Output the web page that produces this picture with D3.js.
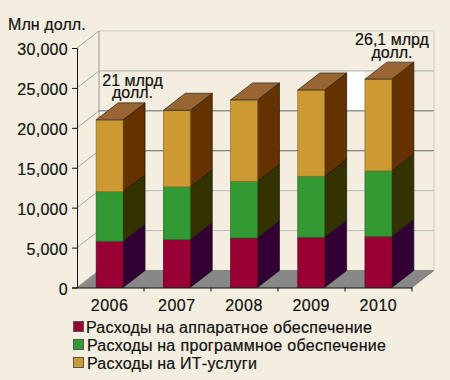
<!DOCTYPE html>
<html>
<head>
<meta charset="utf-8">
<script src="https://cdn.jsdelivr.net/npm/d3@7"></script>
<style>
html, body { margin: 0; padding: 0; background: #f3eedf; }
text { font-family: "Liberation Sans", Arial, sans-serif; fill: #111; stroke: #111; stroke-width: 0.2; }
</style>
</head>
<body>
<div id="chart"></div>
<script>
var years = ["2006", "2007", "2008", "2009", "2010"];
var hardware = [5800, 6000, 6200, 6300, 6400];
var software = [6200, 6600, 7100, 7640, 8200];
var services = [9000, 9600, 10200, 10800, 11500];
var yTicks = [0, 5000, 10000, 15000, 20000, 25000, 30000];
var seriesKeys = ["hardware", "software", "services"];
var legendHead = ["Расходы на", "Расходы на", "Расходы на"];
var legendTail = ["аппаратное обеспечение", "программное обеспечение", "ИТ-услуги"];
var notes = [
    {year: "2006", lines: ["21 млрд", "долл."]},
    {year: "2010", lines: ["26,1 млрд", "долл."]}
];

var cfg = {
    w: 450, h: 380,
    left: 77, right: 412, top: 48, bottom: 287.5,
    dx: 22, dy: 17,
    padding: 0.6,
    front: ["#990033", "#339933", "#cc9933"],
    side: ["#330033", "#333300", "#663300"],
    roof: "#996633",
    floor: "#888888",
    bg: "#f3eedf"
};

var table = years.map(function (y, i) {
    return {year: y, hardware: hardware[i], software: software[i], services: services[i]};
});
var stacked = d3.stack().keys(seriesKeys)(table);

var x = d3.scaleBand().domain(years).range([cfg.left - 1, cfg.right]).paddingInner(cfg.padding).paddingOuter(cfg.padding / 2);
var y = d3.scaleLinear().domain([0, 30000]).range([cfg.bottom, cfg.top]);

var svg = d3.select("#chart").append("svg")
    .attr("width", cfg.w)
    .attr("height", cfg.h)
    .style("display", "block");

function poly(pts) {
    return pts.map(function (p) { return p[0] + "," + p[1]; }).join(" ");
}

// floor
svg.append("polygon")
    .attr("points", poly([
        [cfg.left, cfg.bottom], [cfg.left + cfg.dx, cfg.bottom - cfg.dy],
        [cfg.right + cfg.dx, cfg.bottom - cfg.dy], [cfg.right, cfg.bottom]
    ]))
    .attr("fill", cfg.floor)
    .attr("stroke", "#555")
    .attr("stroke-width", 0.5);

// white patch on the back wall, between the last two bars
svg.append("rect")
    .attr("x", x("2009") + x.bandwidth() + cfg.dx)
    .attr("y", y(25000) - cfg.dy)
    .attr("width", x("2010") - x("2009") - x.bandwidth() - cfg.dx)
    .attr("height", y(20000) - y(25000))
    .attr("fill", "#fff");

// back wall and left wall grid
var gridColor = {0: "#bbb", 5000: "#bbb", 10000: "#bbb", 15000: "#666", 20000: "#666", 25000: "#aaa", 30000: "#ccc"};
var grid = svg.append("g").attr("class", "grid");
yTicks.forEach(function (t) {
    grid.append("line")
        .attr("x1", cfg.left).attr("y1", y(t))
        .attr("x2", cfg.left + cfg.dx).attr("y2", y(t) - cfg.dy)
        .attr("stroke", "#aaa");
    if (t > 0) {
        grid.append("line")
            .attr("x1", cfg.left + cfg.dx).attr("y1", y(t) - cfg.dy)
            .attr("x2", cfg.right + cfg.dx).attr("y2", y(t) - cfg.dy)
            .attr("stroke", gridColor[t]);
    }
});
grid.append("line")
    .attr("x1", cfg.left + cfg.dx).attr("y1", y(30000) - cfg.dy)
    .attr("x2", cfg.left + cfg.dx).attr("y2", y(0) - cfg.dy)
    .attr("stroke", "#999");
grid.append("line")
    .attr("x1", cfg.right + cfg.dx).attr("y1", y(30000) - cfg.dy)
    .attr("x2", cfg.right + cfg.dx).attr("y2", y(0) - cfg.dy)
    .attr("stroke", "#ccc");

// bars, back to front inside each stack
var bars = svg.append("g").attr("class", "bars");
stacked.forEach(function (layer, s) {
    var g = bars.append("g");
    layer.forEach(function (d) {
        var yr = d.data.year,
            x0 = x(yr),
            x1 = x0 + x.bandwidth(),
            y0 = y(d[0]),
            y1 = y(d[1]);
        g.append("polygon")
            .attr("points", poly([[x1, y0], [x1 + cfg.dx, y0 - cfg.dy], [x1 + cfg.dx, y1 - cfg.dy], [x1, y1]]))
            .attr("fill", cfg.side[s])
            .attr("stroke", "#111")
            .attr("stroke-width", 0.7);
        g.append("rect")
            .attr("x", x0).attr("y", y1)
            .attr("width", x.bandwidth()).attr("height", y0 - y1)
            .attr("fill", cfg.front[s])
            .attr("stroke", d3.color(cfg.front[s]).darker(1))
            .attr("stroke-width", 0.7);
        if (s === stacked.length - 1) {
            g.append("polygon")
                .attr("points", poly([[x0, y1], [x0 + cfg.dx, y1 - cfg.dy], [x1 + cfg.dx, y1 - cfg.dy], [x1, y1]]))
                .attr("fill", cfg.roof)
                .attr("stroke", "#222")
                .attr("stroke-width", 0.7);
        }
    });
});

// axes
var yAxis = d3.axisLeft(y).tickValues(yTicks).tickSize(5).tickPadding(4)
    .tickFormat(function (d) { return d === 0 ? "0" : d3.format(",")(d); });
var yG = svg.append("g").attr("transform", "translate(" + cfg.left + ",0)").call(yAxis);
yG.attr("font-family", null);
yG.selectAll("text").attr("font-size", 16).attr("letter-spacing", 0.3).attr("dy", "0.42em");
yG.selectAll("line, path").attr("stroke", "#111");

var xAxis = d3.axisBottom(x).tickSize(0).tickPadding(12);
var xG = svg.append("g").attr("transform", "translate(0," + cfg.bottom + ")").call(xAxis);
xG.attr("font-family", null);
xG.selectAll("text").attr("font-size", 16).attr("letter-spacing", 0.5);
xG.select(".domain").attr("stroke", "#111").attr("stroke-width", 1.2);

// x ticks sit between the categories
var tickStep = (cfg.right - cfg.left) / years.length;
years.forEach(function (yr, i) {
    var tx = cfg.left + tickStep * (i + 1);
    svg.append("line")
        .attr("x1", tx).attr("y1", cfg.bottom)
        .attr("x2", tx).attr("y2", cfg.bottom + 4)
        .attr("stroke", "#111");
});

svg.append("text")
    .attr("x", 8).attr("y", 29.5)
    .attr("font-size", 16)
    .attr("letter-spacing", 0.1)
    .text("Млн долл.");

// notes above the first and last bar
var noteX = [132.5, 392];
var noteY = [86, 45];
var noteGap = [12, 13];
notes.forEach(function (n, i) {
    n.lines.forEach(function (line, k) {
        svg.append("text")
            .attr("x", noteX[i])
            .attr("y", noteY[i] + k * noteGap[i])
            .attr("text-anchor", "middle")
            .attr("font-size", 16)
            .text(line);
    });
});

// legend
var legend = svg.append("g").attr("class", "legend");
var legendY = [332.5, 350.5, 368.5];
var legendHeadX = [86, 87, 87];
var legendTailX = [179, 180.5, 180];
legendTail.forEach(function (t, i) {
    legend.append("rect")
        .attr("x", 73.5).attr("y", legendY[i] - 11)
        .attr("width", 10).attr("height", 10)
        .attr("fill", cfg.front[i])
        .attr("stroke", "#555");
    legend.append("text")
        .attr("x", legendHeadX[i]).attr("y", legendY[i])
        .attr("font-size", 16)
        .attr("letter-spacing", 0.2)
        .text(legendHead[i]);
    legend.append("text")
        .attr("x", legendTailX[i]).attr("y", legendY[i])
        .attr("font-size", 16)
        .attr("letter-spacing", 0.3)
        .text(t);
});
</script>
</body>
</html>
